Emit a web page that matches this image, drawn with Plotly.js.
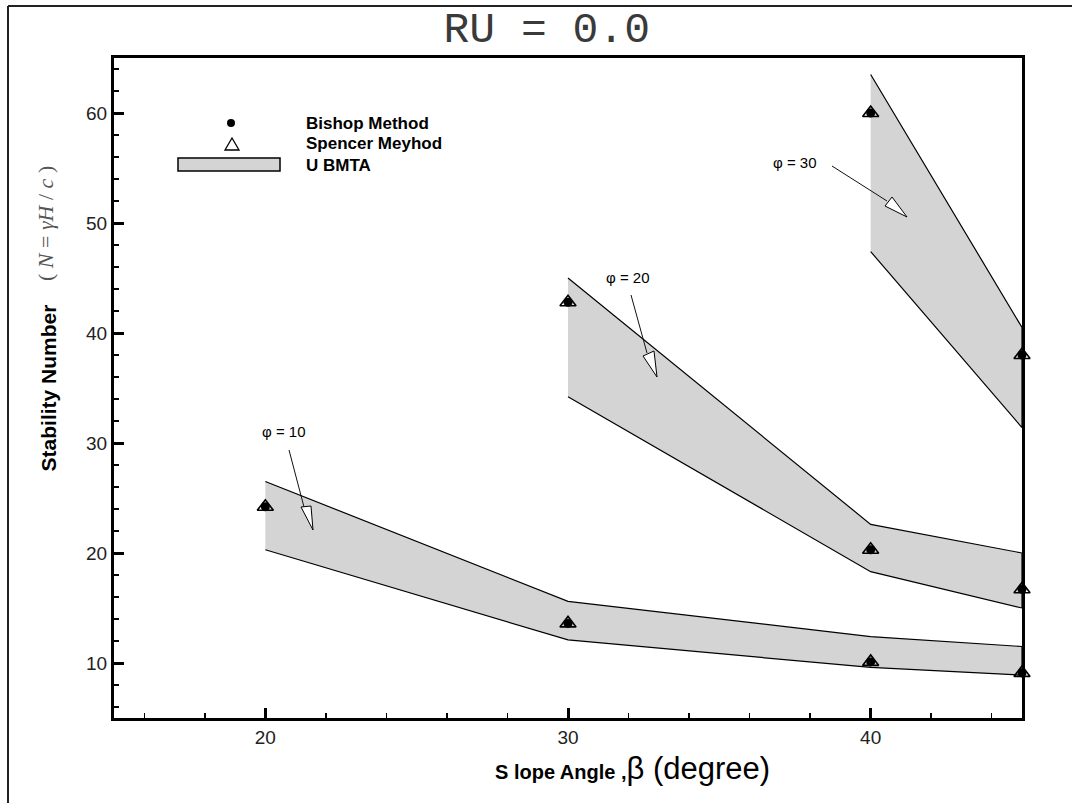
<!DOCTYPE html>
<html>
<head>
<meta charset="utf-8">
<script src="https://cdn.plot.ly/plotly-3.0.1.min.js"></script>
<style>
  html, body { margin: 0; padding: 0; background: #ffffff; }
  #chart { width: 1072px; height: 803px; }
</style>
</head>
<body>
<div id="chart"></div>
<script>
// ---------------- data ----------------
// UBMTA bands (upper / lower bound) for each friction angle
const beta10 = [20, 30, 40, 45];
const ubmtaUpper10 = [26.5, 15.6, 12.4, 11.5];
const ubmtaLower10 = [20.3, 12.1, 9.6, 8.9];

const beta20 = [30, 40, 45];
const ubmtaUpper20 = [45.0, 22.6, 20.0];
const ubmtaLower20 = [34.2, 18.3, 15.0];

const beta30 = [40, 45];
const ubmtaUpper30 = [63.5, 40.5];
const ubmtaLower30 = [47.4, 31.4];

// Limit equilibrium results
const methodBeta = [20, 30, 40, 45, 30, 40, 45, 40, 45];
const bishopN = [24.2, 13.6, 10.1, 9.1, 42.8, 20.3, 16.7, 60.0, 38.0];
const spencerN = [24.2, 13.6, 10.1, 9.1, 42.8, 20.3, 16.7, 60.0, 38.0];

const xTickVals = [20, 30, 40];
const yTickVals = [10, 20, 30, 40, 50, 60];
const phiLabels = ['\u03c6 = 10', '\u03c6 = 20', '\u03c6 = 30'];

// ---------------- layout geometry ----------------
const W = 1072, H = 803;
const M = { l: 114, r: 50, t: 58, b: 85 };
const PW = W - M.l - M.r, PH = H - M.t - M.b;
const XR = [15, 45], YR = [5, 65];
// pixel -> paper / data helpers (for decorations only)
const pxX = x => (x - M.l) / PW;
const pxY = y => (M.t + PH - y) / PH;
const dX = x => XR[0] + (x - M.l) / PW * (XR[1] - XR[0]);
const dY = y => YR[1] - (y - M.t) / PH * (YR[1] - YR[0]);

function band(xs, up, lo, name, show) {
  return {
    type: 'scatter', mode: 'lines', name: name, showlegend: show,
    x: xs.concat(xs.slice().reverse()),
    y: up.concat(lo.slice().reverse()),
    fill: 'toself', fillcolor: '#d4d4d4',
    line: { color: '#000000', width: 1.2 },
    hoverinfo: 'x+y'
  };
}

const traces = [
  band(beta10, ubmtaUpper10, ubmtaLower10, 'UBMTA', true),
  band(beta20, ubmtaUpper20, ubmtaLower20, 'UBMTA (\u03c6 = 20)', false),
  band(beta30, ubmtaUpper30, ubmtaLower30, 'UBMTA (\u03c6 = 30)', false),
  {
    type: 'scatter', mode: 'markers', name: 'Spencer Meyhod',
    x: methodBeta, y: spencerN, cliponaxis: false,
    marker: { symbol: 'triangle-up-open', size: 14, color: '#000000', line: { width: 1.6, color: '#000000' } }
  },
  {
    type: 'scatter', mode: 'markers', name: 'Bishop Method',
    x: methodBeta, y: bishopN, cliponaxis: false,
    marker: { symbol: 'circle', size: 9, color: '#000000' }
  }
];

// arrows (shaft + open head), pixel positions converted to data coordinates
function arrow(shaft, head) {
  return [
    { type: 'line', xref: 'x', yref: 'y', x0: dX(shaft[0]), y0: dY(shaft[1]), x1: dX(shaft[2]), y1: dY(shaft[3]),
      line: { color: '#111111', width: 1 } },
    { type: 'path', xref: 'x', yref: 'y',
      path: 'M' + dX(head[0]) + ',' + dY(head[1]) + ' L' + dX(head[2]) + ',' + dY(head[3]) + ' L' + dX(head[4]) + ',' + dY(head[5]) + ' Z',
      fillcolor: '#ffffff', line: { color: '#000000', width: 1 } }
  ];
}

const shapes = [].concat(
  arrow([289, 450, 304, 507], [301, 507, 311, 506, 313, 530]),
  arrow([631, 295, 647, 353], [643, 356, 654, 351, 657, 377]),
  arrow([832, 166, 887, 201], [885, 206, 892, 197, 907, 217]),
  [
    // legend symbols
    { type: 'circle', xref: 'paper', yref: 'paper', x0: pxX(227), x1: pxX(235), y0: pxY(127), y1: pxY(119),
      fillcolor: '#000000', line: { color: '#000000', width: 0 } },
    { type: 'path', xref: 'paper', yref: 'paper',
      path: 'M' + pxX(232) + ',' + pxY(138) + ' L' + pxX(239) + ',' + pxY(150) + ' L' + pxX(225) + ',' + pxY(150) + ' Z',
      fillcolor: 'rgba(0,0,0,0)', line: { color: '#000000', width: 1.3 } },
    { type: 'rect', xref: 'paper', yref: 'paper', x0: pxX(178), x1: pxX(280), y0: pxY(171), y1: pxY(158),
      fillcolor: '#d4d4d4', line: { color: '#000000', width: 1.5 } },
    // outer frame (left and top edges)
    { type: 'line', xref: 'paper', yref: 'paper', x0: pxX(8), x1: pxX(8), y0: pxY(6), y1: pxY(810),
      line: { color: '#222222', width: 2 } },
    { type: 'line', xref: 'paper', yref: 'paper', x0: pxX(8), x1: pxX(1080), y0: pxY(6), y1: pxY(6),
      line: { color: '#222222', width: 2 } }
  ]
);

const sansFamily = '"Liberation Sans Narrow", "Liberation Sans", Arial, sans-serif';
const legendFont = { family: sansFamily, size: 17, color: '#000000' };
const phiFont = { family: sansFamily, size: 15, color: '#000000' };

const annotations = [
  { xref: 'paper', yref: 'paper', x: pxX(304), y: pxY(123), xanchor: 'left', yanchor: 'middle', showarrow: false,
    text: '<b>Bishop Method</b>', font: legendFont },
  { xref: 'paper', yref: 'paper', x: pxX(304), y: pxY(144), xanchor: 'left', yanchor: 'middle', showarrow: false,
    text: '<b>Spencer Meyhod</b>', font: legendFont },
  { xref: 'paper', yref: 'paper', x: pxX(304), y: pxY(165), xanchor: 'left', yanchor: 'middle', showarrow: false,
    text: '<b>U BMTA</b>', font: legendFont },
  { xref: 'x', yref: 'y', x: dX(284), y: dY(431), showarrow: false, text: phiLabels[0], font: phiFont },
  { xref: 'x', yref: 'y', x: dX(628), y: dY(277), showarrow: false, text: phiLabels[1], font: phiFont },
  { xref: 'x', yref: 'y', x: dX(795), y: dY(162), showarrow: false, text: phiLabels[2], font: phiFont },
  // formula next to y-axis title
  { xref: 'paper', yref: 'paper', x: pxX(46), y: pxY(224), xanchor: 'center', yanchor: 'middle',
    textangle: -90, showarrow: false,
    text: '( <i>N</i> = <i>\u03b3H</i> / <i>c</i> )',
    font: { family: '"Liberation Serif", "Times New Roman", serif', size: 22, color: '#555555' } },
  // x-axis title (offset to the right, as in the original)
  { xref: 'paper', yref: 'paper', x: pxX(632), y: pxY(768), xanchor: 'center', yanchor: 'middle', showarrow: false,
    text: '<b>S lope Angle ,</b><span style="font-size:31px">\u03b2 (degree)</span>',
    font: { family: sansFamily, size: 20, color: '#000000' } }
];

const tickFont = { family: sansFamily, size: 19, color: '#222222' };

const layout = {
  width: W, height: H,
  margin: M,
  paper_bgcolor: '#ffffff', plot_bgcolor: '#ffffff',
  showlegend: false,
  title: {
    text: 'RU = 0.0', x: 0.51, xanchor: 'center', y: 1 - 27 / H, yanchor: 'middle',
    font: { family: '"Liberation Mono", "DejaVu Sans Mono", monospace', size: 43, color: '#3a3a3a' }
  },
  xaxis: {
    range: XR, tickvals: xTickVals, ticktext: xTickVals.map(String),
    ticks: 'inside', ticklen: 10, tickwidth: 3, tickcolor: '#000000',
    minor: { dtick: 2, tick0: 0, ticks: 'inside', ticklen: 5, tickwidth: 1.5, tickcolor: '#000000' },
    showline: true, linewidth: 3, linecolor: '#000000', mirror: true,
    showgrid: false, zeroline: false, tickfont: tickFont
  },
  yaxis: {
    range: YR, tickvals: yTickVals, ticktext: yTickVals.map(String),
    ticks: 'inside', ticklen: 10, tickwidth: 3, tickcolor: '#000000',
    minor: { dtick: 2, tick0: 0, ticks: 'inside', ticklen: 5, tickwidth: 1.5, tickcolor: '#000000' },
    showline: true, linewidth: 3, linecolor: '#000000', mirror: true,
    showgrid: false, zeroline: false, tickfont: tickFont,
    title: {
      text: '<b>Stability Number</b>',
      font: { family: sansFamily, size: 21, color: '#000000' },
      standoff: 24
    }
  },
  shapes: shapes,
  annotations: annotations
};

Plotly.newPlot('chart', traces, layout, { displayModeBar: false, staticPlot: true });
</script>
</body>
</html>
